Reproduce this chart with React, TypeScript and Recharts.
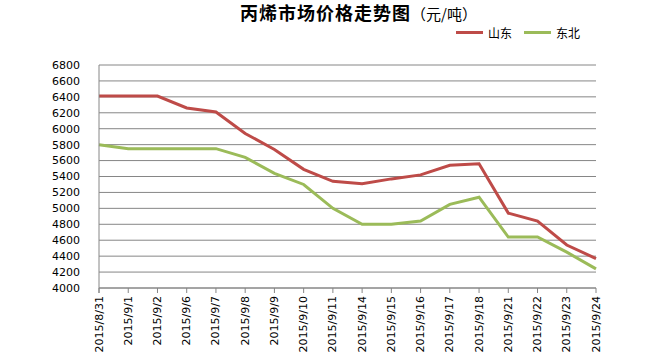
import React from 'react';
import { LineChart, Line, XAxis, YAxis, CartesianGrid, Legend } from 'recharts';

const dates = [
  '2015/8/31', '2015/9/1', '2015/9/2', '2015/9/6', '2015/9/7', '2015/9/8',
  '2015/9/9', '2015/9/10', '2015/9/11', '2015/9/14', '2015/9/15', '2015/9/16',
  '2015/9/17', '2015/9/18', '2015/9/21', '2015/9/22', '2015/9/23', '2015/9/24',
];

const shandong = [6410, 6410, 6410, 6260, 6210, 5940, 5740, 5490, 5340, 5310, 5370, 5420, 5540, 5560, 4940, 4840, 4540, 4370];
const dongbei = [5800, 5750, 5750, 5750, 5750, 5640, 5440, 5300, 5000, 4800, 4800, 4840, 5050, 5140, 4640, 4640, 4450, 4240];

const yTicks = [4000, 4200, 4400, 4600, 4800, 5000, 5200, 5400, 5600, 5800, 6000, 6200, 6400, 6600, 6800];

const RED = '#BE4B48';
const GREEN = '#9BBB59';
const GRID = '#868686';

const data = dates.map((d, i) => ({ date: d, sd: shandong[i], db: dongbei[i] }));

const DateTick = (props: any) => {
  const { x, y, payload } = props;
  const half = payload.offset || 0;
  const axisY = y - 8;
  return (
    <g>
      <line x1={x + half} x2={x + half} y1={axisY} y2={axisY + 5} stroke={GRID} />
      {payload.index === 0 && (
        <line x1={x - half} x2={x - half} y1={axisY} y2={axisY + 5} stroke={GRID} />
      )}
      <text
        x={x}
        y={y}
        transform={`rotate(-90, ${x}, ${y})`}
        textAnchor="end"
        dominantBaseline="central"
        fontSize={11}
        fontFamily="DejaVu Sans"
        fill="#000"
      >
        {payload.value}
      </text>
    </g>
  );
};

const LegendBox = () => (
  <div style={{ display: 'flex', alignItems: 'center', fontSize: 12, fontFamily: 'Noto Sans CJK SC', color: '#000' }}>
    <span style={{ display: 'inline-block', width: 27, height: 3, background: RED, marginRight: 5 }} />
    <span style={{ marginRight: 12 }}>山东</span>
    <span style={{ display: 'inline-block', width: 27, height: 3, background: GREEN, marginRight: 5 }} />
    <span>东北</span>
  </div>
);

export default function App() {
  return (
    <div style={{ position: 'absolute', left: 0, top: 0, width: 654, height: 361, background: '#fff' }}>
      <div
        style={{
          position: 'absolute',
          top: 2,
          left: 240,
          whiteSpace: 'nowrap',
          fontFamily: 'Noto Sans CJK SC',
          color: '#000',
          lineHeight: '20px',
        }}
      >
        <span style={{ fontSize: 18, fontWeight: 700, letterSpacing: 1 }}>丙烯市场价格走势图</span>
        <span style={{ fontSize: 15 }}>（元/吨）</span>
      </div>
      <LineChart width={654} height={361} data={data} margin={{ top: 48, right: 58, bottom: 0, left: 0 }}>
        <CartesianGrid vertical={false} stroke={GRID} />
        <XAxis
          dataKey="date"
          height={73}
          interval={0}
          axisLine={{ stroke: GRID }}
          tickLine={false}
          tickSize={0}
          tickMargin={8}
          tick={<DateTick />}
        />
        <XAxis xAxisId="top" dataKey="date" orientation="top" height={0} tick={false} tickLine={false} axisLine={{ stroke: '#000' }} />
        <YAxis
          domain={[4000, 6800]}
          ticks={yTicks}
          width={99}
          interval={0}
          axisLine={{ stroke: GRID }}
          tickLine={false}
          tickMargin={13}
          tick={{ fontSize: 11, fontFamily: 'DejaVu Sans', fill: '#000' }}
        />
        <YAxis yAxisId="right" orientation="right" width={0} domain={[4000, 6800]} tick={false} tickLine={false} axisLine={{ stroke: '#000' }} />
        <Legend verticalAlign="top" align="right" content={<LegendBox />} wrapperStyle={{ top: 24, left: 456, width: 200 }} />
        <Line type="linear" dataKey="sd" name="山东" stroke={RED} strokeWidth={3} dot={false} isAnimationActive={false} />
        <Line type="linear" dataKey="db" name="东北" stroke={GREEN} strokeWidth={3} dot={false} isAnimationActive={false} />
      </LineChart>
    </div>
  );
}
